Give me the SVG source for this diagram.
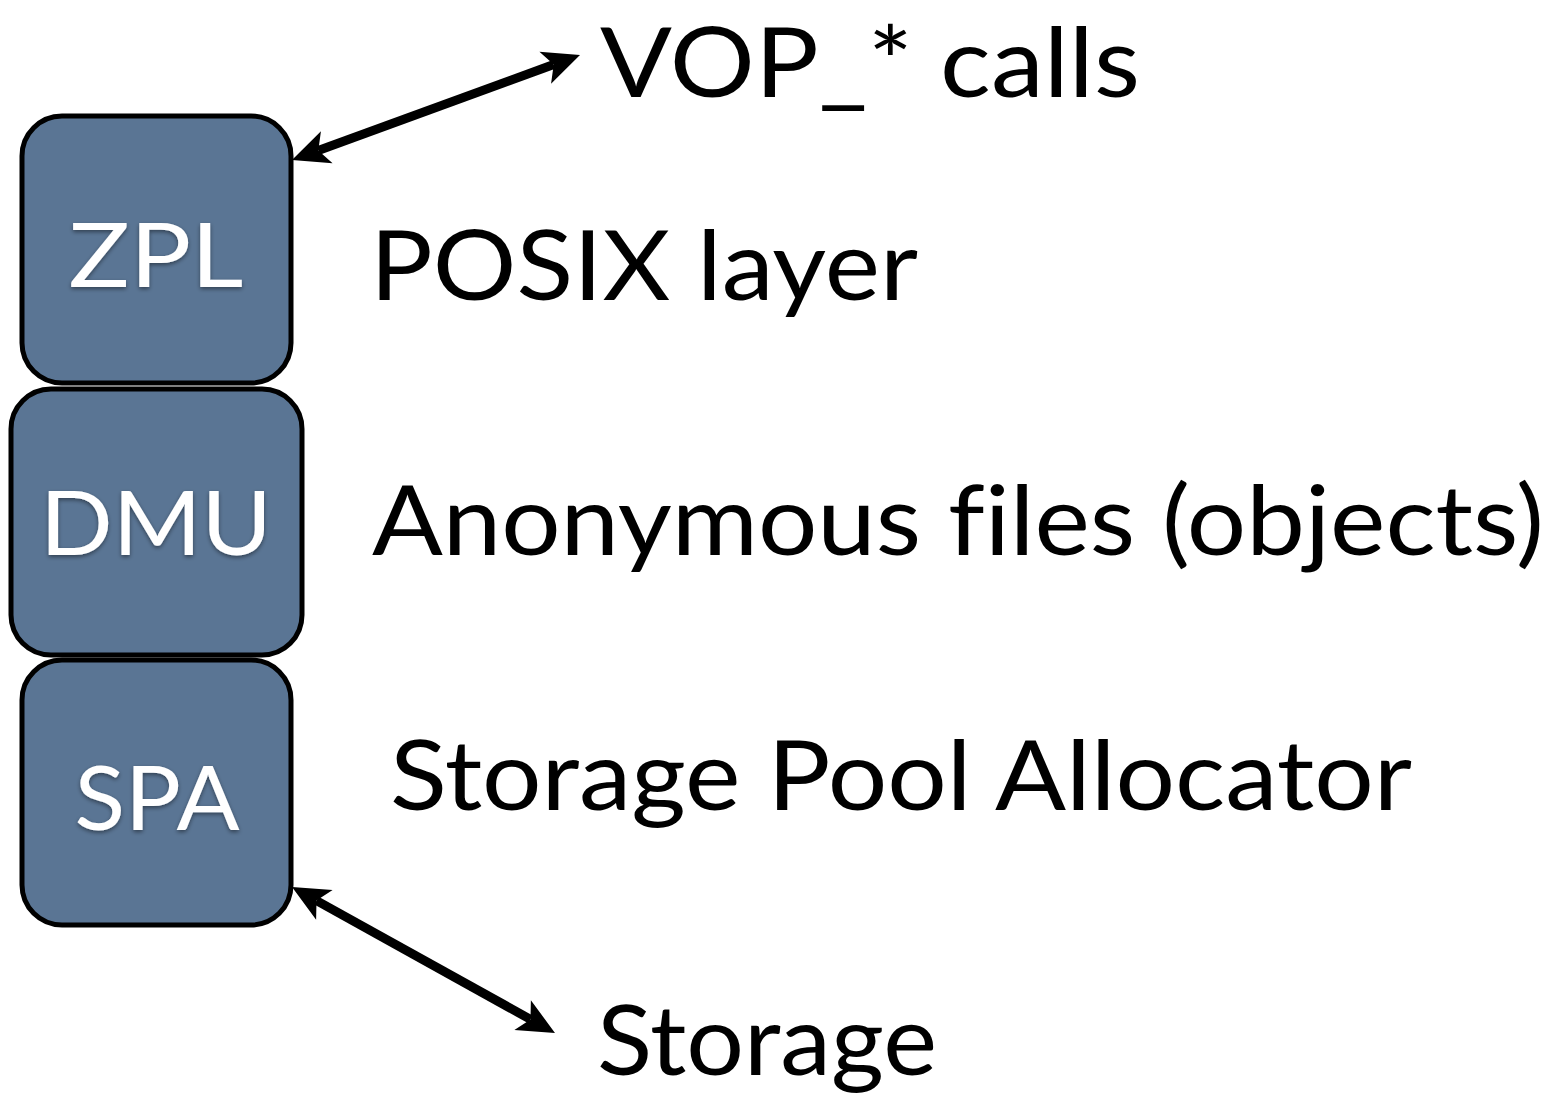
<svg xmlns="http://www.w3.org/2000/svg" width="1555" height="1100" viewBox="0 0 1555 1100">
  <style>
    .box { fill: #5a7594; stroke: #000; stroke-width: 5; }
    .boxlabel { font-family: Lato, "Open Sans", "Liberation Sans", sans-serif; font-size: 90px; fill: #fff; filter: url(#shadow); }
    .label { font-family: Lato, "Open Sans", "Liberation Sans", sans-serif; font-size: 96px; fill: #000; font-variant-ligatures: none; }
    .conn { stroke: #000; stroke-width: 9; fill: none; marker-start: url(#arrow); marker-end: url(#arrow); }
  </style>
  <defs>
    <marker id="arrow" markerUnits="userSpaceOnUse" orient="auto-start-reverse" refX="0" refY="0" markerWidth="80" markerHeight="80" overflow="visible">
      <path d="M28,0 L-9,-17 L0,0 L-9,17 Z" fill="#000"/>
    </marker>
    <filter id="shadow" x="-10%" y="-10%" width="120%" height="130%">
      <feDropShadow dx="0" dy="2" stdDeviation="2" flood-color="#000" flood-opacity="0.45"/>
    </filter>
  </defs>

  <rect width="1555" height="1100" fill="#fff"/>

  <g id="connectors">
    <line class="conn" x1="318.3" y1="150.4" x2="553.7" y2="64.6"/>
    <line class="conn" x1="316.5" y1="900.6" x2="530.5" y2="1019.4"/>
  </g>

  <g id="zpl">
    <rect class="box" x="22" y="116" width="269" height="267" rx="40" ry="40"/>
    <text class="boxlabel" x="156" y="287" text-anchor="middle" textLength="175" lengthAdjust="spacingAndGlyphs">ZPL</text>
  </g>
  <g id="dmu">
    <rect class="box" x="11" y="389" width="291" height="266" rx="40" ry="40"/>
    <text class="boxlabel" x="156" y="555" text-anchor="middle" textLength="232" lengthAdjust="spacingAndGlyphs">DMU</text>
  </g>
  <g id="spa">
    <rect class="box" x="22" y="660" width="269" height="265" rx="40" ry="40"/>
    <text class="boxlabel" x="157" y="830" text-anchor="middle" textLength="165" lengthAdjust="spacingAndGlyphs">SPA</text>
  </g>

  <g id="vop-calls">
    <text class="label" x="600" y="97" textLength="540" lengthAdjust="spacingAndGlyphs">VOP_* calls</text>
  </g>
  <g id="posix-layer">
    <text class="label" x="370" y="300" textLength="548" lengthAdjust="spacingAndGlyphs">POSIX layer</text>
  </g>
  <g id="anonymous-files">
    <text class="label" x="372" y="555" textLength="1172" lengthAdjust="spacingAndGlyphs">Anonymous files (objects)</text>
  </g>
  <g id="storage-pool-allocator">
    <text class="label" x="390" y="810" textLength="1022" lengthAdjust="spacingAndGlyphs">Storage Pool Allocator</text>
  </g>
  <g id="storage">
    <text class="label" x="597" y="1075" textLength="340" lengthAdjust="spacingAndGlyphs">Storage</text>
  </g>
</svg>
